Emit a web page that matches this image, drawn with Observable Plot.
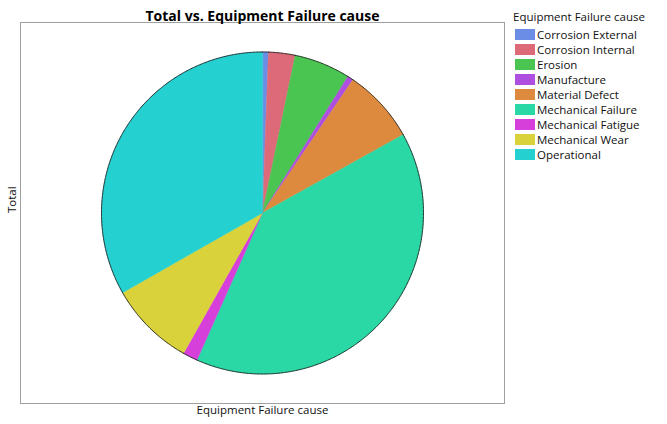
<!DOCTYPE html>
<html>
<head>
<meta charset="utf-8">
<script src="https://cdn.jsdelivr.net/npm/d3@7"></script>
<script src="https://cdn.jsdelivr.net/npm/@observablehq/plot@0.6"></script>
<style>
  body { margin: 0; background: #fff; font-family: "Open Sans", sans-serif; }
  #wrap { position: relative; width: 667px; height: 424px; }
  #legend { position: absolute; left: 513px; top: 9px; font-size: 11.5px; color: #111; }
  #legend .ttl { margin-bottom: 3px; white-space: nowrap; }
  #legend .it { display: flex; align-items: center; height: 15px; white-space: nowrap; }
  #legend .sw { width: 20px; height: 11px; margin-right: 2px; margin-left: 2px; }
</style>
</head>
<body>
<div id="wrap"></div>
<script>
const categories = ["Corrosion External", "Corrosion Internal", "Erosion", "Manufacture", "Material Defect", "Mechanical Failure", "Mechanical Fatigue", "Mechanical Wear", "Operational"];
const totals = [2, 9, 19, 2, 25, 134, 5, 29, 112];
const colors = ["#6b8de6", "#dd6a78", "#4bc552", "#ae4fe0", "#dd8a3e", "#29d8a5", "#d63fd9", "#d9d23b", "#25d0d0"];
const title = "Total vs. Equipment Failure cause";
const xLabel = "Equipment Failure cause";
const yLabel = "Total";

const data = categories.map((c, i) => ({category: c, total: totals[i]}));
const arcs = d3.pie().sort(null).value(d => d.total)(data);

const step = Math.PI / 360;
const slicePts = [];
const rimPts = [];
arcs.forEach(a => {
  const c = a.data.category;
  slicePts.push({category: c, x: 0, y: 0});
  const n = Math.max(2, Math.ceil((a.endAngle - a.startAngle) / step));
  for (let k = 0; k <= n; k++) {
    const t = a.startAngle + (a.endAngle - a.startAngle) * k / n;
    slicePts.push({category: c, x: Math.sin(t), y: Math.cos(t)});
    rimPts.push({category: c, x: Math.sin(t), y: Math.cos(t)});
  }
});

const W = 667, H = 424;
const mL = 20, mR = 163, mT = 22, mB = 21;
const R = 161; // pie radius in px
const xr = (W - mL - mR) / 2 / R, yr = (H - mT - mB) / 2 / R;

const plot = Plot.plot({
  width: W, height: H,
  marginLeft: mL, marginRight: mR, marginTop: mT, marginBottom: mB,
  x: {domain: [-xr, xr], axis: null},
  y: {domain: [-yr, yr], axis: null},
  color: {domain: categories, range: colors},
  style: {fontFamily: "Open Sans, sans-serif", background: "white", overflow: "visible"},
  marks: [
    Plot.frame({stroke: "#a0a0a0", strokeWidth: 1}),
    Plot.line(slicePts, {x: "x", y: "y", z: "category", fill: "category", stroke: "category", strokeWidth: 0.5, curve: "linear-closed"}),
    Plot.line(rimPts, {x: "x", y: "y", z: "category", stroke: "#222", strokeWidth: 0.9}),
    Plot.text([title], {frameAnchor: "top", text: d => d, dy: -11, fontSize: 14, fontWeight: "bold", fill: "#000"}),
    Plot.text([xLabel], {frameAnchor: "bottom", text: d => d, dy: 10, fontSize: 11.5, fill: "#111"}),
    Plot.text([yLabel], {frameAnchor: "left", text: d => d, dx: -8, rotate: -90, fontSize: 11.5, fill: "#111"})
  ]
});

const wrap = document.getElementById("wrap");
wrap.appendChild(plot);

const lg = document.createElement("div");
lg.id = "legend";
const t = document.createElement("div");
t.className = "ttl";
t.textContent = xLabel;
lg.appendChild(t);
categories.forEach((c, i) => {
  const it = document.createElement("div");
  it.className = "it";
  const sw = document.createElement("span");
  sw.className = "sw";
  sw.style.background = colors[i];
  const tx = document.createElement("span");
  tx.textContent = c;
  it.appendChild(sw); it.appendChild(tx);
  lg.appendChild(it);
});
wrap.appendChild(lg);
</script>
</body>
</html>
